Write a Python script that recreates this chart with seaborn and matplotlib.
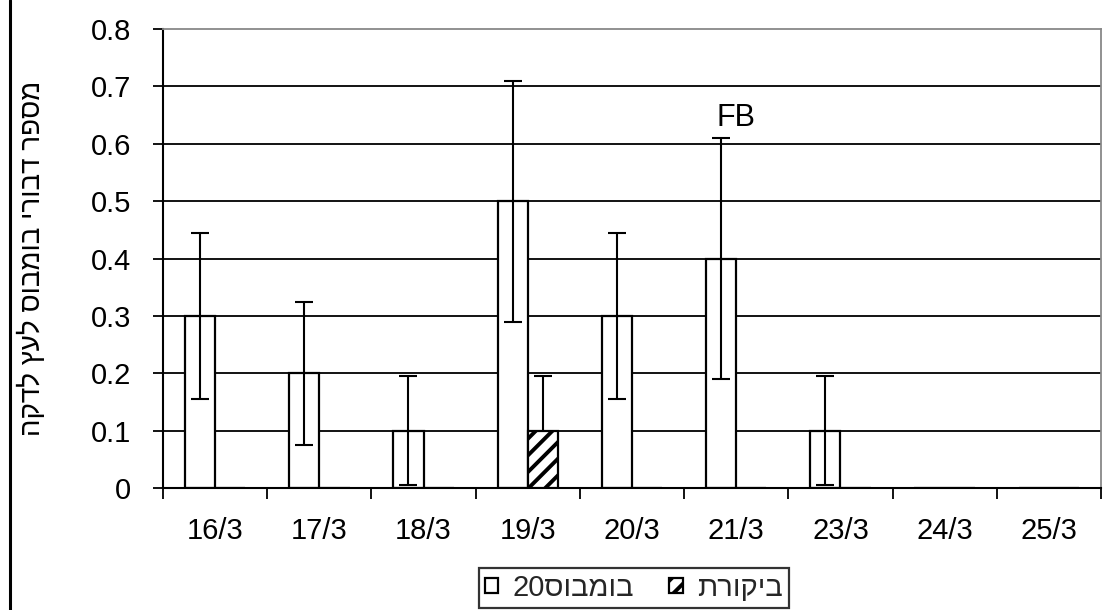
import numpy as np
import pandas as pd
import matplotlib
matplotlib.use("Agg")
import matplotlib.pyplot as plt
from matplotlib.lines import Line2D
from matplotlib.ticker import FixedLocator, FuncFormatter
import seaborn as sns

# ---- data ----
dates = ["16/3", "17/3", "18/3", "19/3", "20/3", "21/3", "23/3", "24/3", "25/3"]
bumblebee20 = [0.3, 0.2, 0.1, 0.5, 0.3, 0.4, 0.1, 0.0, 0.0]
bumblebee20_err = [0.145, 0.125, 0.095, 0.21, 0.145, 0.21, 0.095, 0.0, 0.0]
control = [0.0, 0.0, 0.0, 0.1, 0.0, 0.0, 0.0, 0.0, 0.0]
control_err = [0.0, 0.0, 0.0, 0.095, 0.0, 0.0, 0.0, 0.0, 0.0]
# Hebrew strings are given in visual (left-to-right drawing) order
series_names = ["20סובמוב", "תרוקיב"]          # "20 בומבוס", "ביקורת"
y_label = "הקדל ץעל סובמוב ירובד רפסמ"          # "מספר דבורי בומבוס לעץ לדקה"
y_ticks = [0.0, 0.1, 0.2, 0.3, 0.4, 0.5, 0.6, 0.7, 0.8]
annotation_text = "FB"
annotation_date = "21/3"
annotation_y = 0.645

df = pd.DataFrame({
    "date": dates * 2,
    "value": bumblebee20 + control,
    "series": [series_names[0]] * len(dates) + [series_names[1]] * len(dates),
})

sns.set_theme(style="white")
plt.rcParams["font.family"] = ["Liberation Sans", "DejaVu Sans"]
plt.rcParams["hatch.linewidth"] = 2.8
plt.rcParams["hatch.color"] = "black"

fig = plt.figure(figsize=(11.13, 6.10), dpi=100)
fig.patch.set_facecolor("white")
ax = fig.add_axes([163 / 1113, 1 - 488 / 610, (1101 - 163) / 1113, (488 - 29) / 610])

sns.barplot(data=df, x="date", y="value", hue="series", hue_order=series_names,
            order=dates, palette=["white", "white"], edgecolor="black",
            linewidth=1.6, width=0.58, errorbar=None, legend=False, ax=ax,
            saturation=1)

# style bars
cont_b, cont_c = ax.containers[0], ax.containers[1]
for p in cont_b.patches:
    p.set_zorder(2)
for p in cont_c.patches:
    p.set_hatch("//")
    p.set_zorder(4)

# error bars at bar centres
for cont, vals, errs in [(cont_b, bumblebee20, bumblebee20_err),
                         (cont_c, control, control_err)]:
    xs, ys, es = [], [], []
    for p, v, e in zip(cont.patches, vals, errs):
        if e > 0:
            xs.append(p.get_x() + p.get_width() / 2)
            ys.append(v)
            es.append(e)
    ax.errorbar(xs, ys, yerr=es, fmt="none", ecolor="black", elinewidth=1.5,
                capsize=6.5, capthick=1.5, zorder=3)

# annotation
ax.text(dates.index(annotation_date), annotation_y, annotation_text,
        ha="center", va="center", fontsize=22, color="black")

# axes
ax.set_ylim(0, 0.8)
ax.set_xlim(-0.5, len(dates) - 0.5)
ax.yaxis.set_major_locator(FixedLocator(y_ticks))
ax.yaxis.set_major_formatter(FuncFormatter(lambda v, _: f"{v:g}"))
ax.set_axisbelow(True)
ax.yaxis.grid(True, color="black", linewidth=1.3)
ax.get_ygridlines()[-1].set_visible(False)

ax.xaxis.set_minor_locator(FixedLocator(np.arange(-0.5, len(dates), 1.0)))
ax.tick_params(axis="x", which="major", length=0, pad=21, labelsize=21,
               bottom=True, colors="black")
ax.tick_params(axis="x", which="minor", length=8, width=1.3, bottom=True,
               direction="out", color="black")
ax.tick_params(axis="y", which="major", length=7, width=1.3, left=True,
               direction="out", pad=16, labelsize=21, colors="black")

ax.set_xlabel("")
ax.set_ylabel(y_label, fontsize=20, labelpad=32, color="black")

for side in ["left", "bottom"]:
    ax.spines[side].set_color("black")
    ax.spines[side].set_linewidth(1.5)
for side in ["top", "right"]:
    ax.spines[side].set_color("#888888")
    ax.spines[side].set_linewidth(1.3)
ax.set_facecolor("white")

# legend
leg = fig.legend(handles=[cont_b, cont_c], labels=series_names, loc="center",
                 bbox_to_anchor=(634 / 1113, 1 - 588 / 610), ncol=2,
                 fontsize=21, frameon=True, fancybox=False, edgecolor="black",
                 handlelength=0.45, handleheight=0.45, handletextpad=0.5,
                 columnspacing=1.2, borderpad=0.2, borderaxespad=0)
leg.get_frame().set_linewidth(1.6)

# left border of the figure
fig.add_artist(Line2D([10 / 1113, 10 / 1113], [0, 1], transform=fig.transFigure,
                      color="black", linewidth=2.2))

fig.savefig("out.png", dpi=100, facecolor="white")
